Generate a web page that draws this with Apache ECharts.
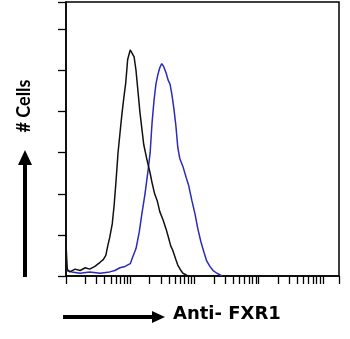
<!DOCTYPE html>
<html>
<head>
<meta charset="utf-8">
<script src="https://cdn.jsdelivr.net/npm/echarts@6/dist/echarts.min.js"></script>
<style>
  html, body { margin: 0; padding: 0; background: #fff; }
  #chart { width: 350px; height: 339px; }
</style>
</head>
<body>
<div id="chart"></div>
<script>
// x in log decades (0 = 10^0), y = cell count
const controlX = [0, 0, 0.02, 0.06, 0.14, 0.22, 0.30, 0.37, 0.45, 0.53, 0.58, 0.62, 0.65, 0.68, 0.72, 0.75, 0.78, 0.81, 0.84, 0.87, 0.90, 0.93, 0.96, 1.00, 1.03, 1.06, 1.09, 1.12, 1.15, 1.18, 1.21, 1.26, 1.31, 1.34, 1.38, 1.42, 1.46, 1.51, 1.56, 1.59, 1.63, 1.66, 1.71, 1.74, 1.79, 1.82, 1.90];
const controlY = [0, 23, 5, 3, 5, 4, 6, 5, 7, 10, 12, 15, 22, 28, 38, 52, 70, 90, 104, 118, 130, 141, 158, 165, 166, 160, 150, 135, 120, 108, 96, 85, 75, 68, 60, 55, 47, 41, 34, 29, 22, 19, 12, 8, 4, 2, 0];

const fxr1X = [0, 0.09, 0.22, 0.37, 0.53, 0.68, 0.76, 0.84, 0.92, 1.00, 1.04, 1.09, 1.14, 1.18, 1.23, 1.28, 1.31, 1.34, 1.37, 1.40, 1.43, 1.46, 1.49, 1.52, 1.56, 1.59, 1.62, 1.65, 1.68, 1.71, 1.74, 1.77, 1.82, 1.87, 1.91, 1.96, 2.01, 2.05, 2.10, 2.15, 2.19, 2.24, 2.29, 2.35, 2.43];
const fxr1Y = [4, 3, 2, 3, 2, 3, 4, 6, 7, 9, 14, 20, 32, 45, 60, 78, 90, 112, 128, 140, 147, 152, 155, 153, 148, 143, 140, 132, 122, 110, 94, 86, 80, 72, 66, 55, 45, 35, 25, 17, 11, 7, 4, 2, 0];

const decades = [0, 1, 2, 3];
const xMax = 4.25;

// log ticks: 1..9 in each decade, plus the last decade and the frame edge
const xTicks = [];
decades.forEach(d => {
  for (let k = 1; k <= 9; k++) xTicks.push(d + Math.log10(k));
});
xTicks.push(4, xMax);

const toPairs = (xs, ys) => xs.map((x, i) => [x, ys[i]]);

const chart = echarts.init(document.getElementById('chart'));
chart.setOption({
  animation: false,
  grid: {
    left: 66, right: 11, top: 2, bottom: 63,
    show: true, borderColor: '#000', borderWidth: 1.5
  },
  xAxis: {
    type: 'value',
    min: 0,
    max: xMax,
    axisLine: { show: true, lineStyle: { color: '#000', width: 1.5 } },
    axisTick: { show: true, customValues: xTicks, length: 8, lineStyle: { color: '#000', width: 1.3 } },
    axisLabel: { show: false },
    splitLine: { show: false }
  },
  yAxis: {
    type: 'value',
    min: 0,
    max: 200,
    interval: 30,
    axisLine: { show: true, lineStyle: { color: '#000', width: 1.5 } },
    axisTick: { show: true, length: 8, lineStyle: { color: '#000', width: 1.3 } },
    axisLabel: { show: false },
    splitLine: { show: false }
  },
  series: [
    {
      name: 'Anti- FXR1',
      type: 'line',
      data: toPairs(fxr1X, fxr1Y),
      showSymbol: false,
      lineStyle: { color: '#2b2bb8', width: 1.5 }
    },
    {
      name: 'Control',
      type: 'line',
      data: toPairs(controlX, controlY),
      showSymbol: false,
      lineStyle: { color: '#111', width: 1.5 }
    }
  ],
  graphic: [
    // y title + up arrow
    { type: 'text', x: 24, y: 106, rotation: Math.PI / 2,
      style: { text: '# Cells', font: 'bold 18px Lato', fill: '#000', align: 'center', verticalAlign: 'middle' } },
    { type: 'line', shape: { x1: 25, y1: 277, x2: 25, y2: 160 }, style: { stroke: '#000', lineWidth: 4 } },
    { type: 'polygon', shape: { points: [[18, 165], [32, 165], [25, 150]] }, style: { fill: '#000' } },
    // x title + right arrow
    { type: 'line', shape: { x1: 63, y1: 317, x2: 155, y2: 317 }, style: { stroke: '#000', lineWidth: 4 } },
    { type: 'polygon', shape: { points: [[152, 311], [152, 323], [165, 317]] }, style: { fill: '#000' } },
    { type: 'text', x: 173, y: 314,
      style: { text: 'Anti- FXR1', font: 'bold 18px "DejaVu Sans"', fill: '#000', align: 'left', verticalAlign: 'middle' } }
  ]
});
</script>
</body>
</html>
